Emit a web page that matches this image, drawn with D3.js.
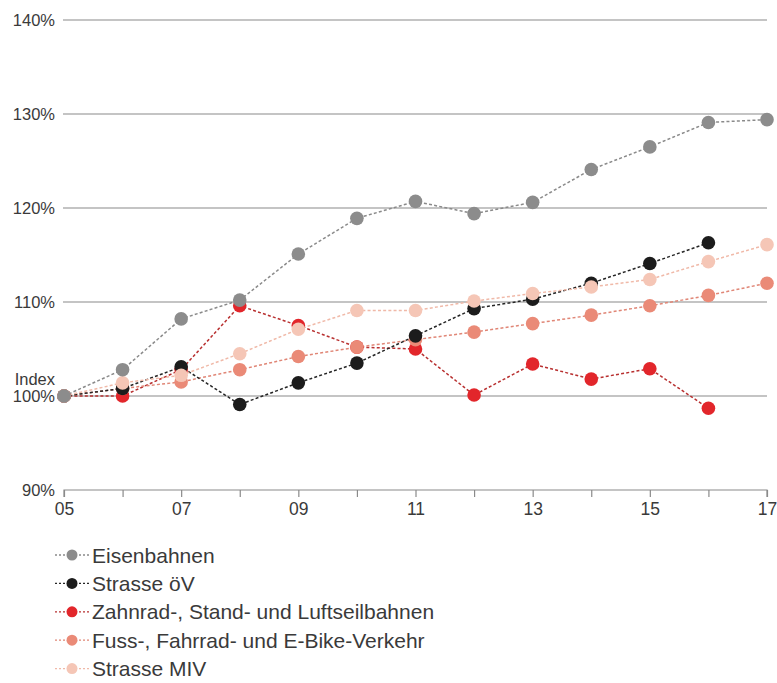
<!DOCTYPE html>
<html>
<head>
<meta charset="utf-8">
<script src="https://cdn.jsdelivr.net/npm/d3@7/dist/d3.min.js"></script>
<style>
  html, body { margin: 0; padding: 0; background: #fff; }
  svg { display: block; }
  text { font-family: "Liberation Sans", Arial, sans-serif; fill: #3a3a3a; }
</style>
</head>
<body>
<svg id="chart" width="777" height="683"></svg>
<script>
// Index of transport performance, 2005 = 100%
const years = [2005, 2006, 2007, 2008, 2009, 2010, 2011, 2012, 2013, 2014, 2015, 2016, 2017];
const eisenbahnen = [100, 102.8, 108.2, 110.2, 115.1, 118.9, 120.7, 119.4, 120.6, 124.1, 126.5, 129.1, 129.4];
const strasseOeV  = [100, 100.8, 103.1, 99.1, 101.4, 103.5, 106.4, 109.3, 110.3, 112.0, 114.1, 116.3, null];
const zahnrad     = [100, 100.0, 102.8, 109.6, 107.5, 105.2, 105.0, 100.1, 103.4, 101.8, 102.9, 98.7, null];
const fuss        = [100, 100.8, 101.5, 102.8, 104.2, 105.2, 106.0, 106.8, 107.7, 108.6, 109.6, 110.7, 112.0];
const miv         = [100, 101.4, 102.2, 104.5, 107.1, 109.1, 109.1, 110.1, 110.9, 111.6, 112.4, 114.3, 116.1];

const yTicks = [90, 100, 110, 120, 130, 140];
const xLabelYears = [2005, 2007, 2009, 2011, 2013, 2015, 2017];

const seriesNames = [
  "Eisenbahnen",
  "Strasse öV",
  "Zahnrad-, Stand- und Luftseilbahnen",
  "Fuss-, Fahrrad- und E-Bike-Verkehr",
  "Strasse MIV"
];
const seriesValues = [eisenbahnen, strasseOeV, zahnrad, fuss, miv];
const dotColors  = ["#8c8c8c", "#1c1c1c", "#e2262b", "#ea8a77", "#f5c6b6"];
const lineColors = ["#8a8a8a", "#262626", "#b83030", "#e08676", "#f0b9a8"];
// stacking order of the marks (bottom to top)
const drawOrder = [2, 3, 1, 4, 0];

const svg = d3.select("#chart");
const x = d3.scaleLinear().domain([2005, 2017]).range([64, 767]);
const y = d3.scaleLinear().domain([90, 140]).range([490, 20]);

// horizontal gridlines
svg.append("g").selectAll("line")
  .data(yTicks.filter(d => d > 90))
  .join("line")
  .attr("x1", x(2005) - 1).attr("x2", x(2017))
  .attr("y1", d => y(d)).attr("y2", d => y(d))
  .attr("stroke", "#8a8a8a").attr("stroke-width", 1.2);

// y labels
svg.append("g").selectAll("text")
  .data(yTicks)
  .join("text")
  .attr("x", 55).attr("y", d => y(d))
  .attr("dy", "0.35em")
  .attr("text-anchor", "end")
  .attr("font-size", 16.5)
  .text(d => d + "%");

svg.append("text")
  .attr("x", 55).attr("y", y(100) - 17)
  .attr("dy", "0.35em")
  .attr("text-anchor", "end")
  .attr("font-size", 16.5)
  .text("Index");

// x axis
const xAxis = d3.axisBottom(x)
  .tickValues(years)
  .tickSize(7)
  .tickPadding(6)
  .tickFormat(d => xLabelYears.includes(d) ? String(d).slice(2) : "");
const gx = svg.append("g").attr("transform", `translate(0,${y(90)})`).call(xAxis);
gx.select(".domain").attr("stroke", "#8a8a8a").attr("stroke-width", 1.2)
  .attr("d", `M${x(2005)},7V0H${x(2017)}V7`);
gx.selectAll(".tick line").attr("stroke", "#8a8a8a").attr("stroke-width", 1.2);
gx.selectAll(".tick text").attr("font-size", 17.5).attr("fill", "#3a3a3a")
  .attr("font-family", "Liberation Sans, Arial, sans-serif");

// series lines and dots
const line = d3.line()
  .defined(d => d.v != null)
  .x(d => x(d.year))
  .y(d => y(d.v));

const marks = svg.append("g");
drawOrder.forEach(i => {
  const pts = years.map((year, k) => ({ year, v: seriesValues[i][k] }));
  marks.append("path")
    .datum(pts)
    .attr("fill", "none")
    .attr("stroke", lineColors[i])
    .attr("stroke-width", 1.5)
    .attr("stroke-dasharray", "3,2.2")
    .attr("d", line);
});
drawOrder.forEach(i => {
  const pts = years.map((year, k) => ({ year, v: seriesValues[i][k] })).filter(d => d.v != null);
  marks.append("g").selectAll("circle")
    .data(pts)
    .join("circle")
    .attr("cx", d => x(d.year))
    .attr("cy", d => y(d.v))
    .attr("r", 6.8)
    .attr("fill", dotColors[i]);
});

// legend
const legend = svg.append("g");
seriesNames.forEach((name, i) => {
  const cy = 555 + i * 28.4;
  const row = legend.append("g");
  row.append("line")
    .attr("x1", 55).attr("x2", 89)
    .attr("y1", cy).attr("y2", cy)
    .attr("stroke", lineColors[i]).attr("stroke-width", 1.3)
    .attr("stroke-dasharray", "2,2");
  row.append("circle")
    .attr("cx", 72).attr("cy", cy).attr("r", 5.5)
    .attr("fill", dotColors[i]);
  row.append("text")
    .attr("x", 92).attr("y", cy)
    .attr("dy", "0.36em")
    .attr("font-size", 21)
    .text(name);
});
</script>
</body>
</html>
